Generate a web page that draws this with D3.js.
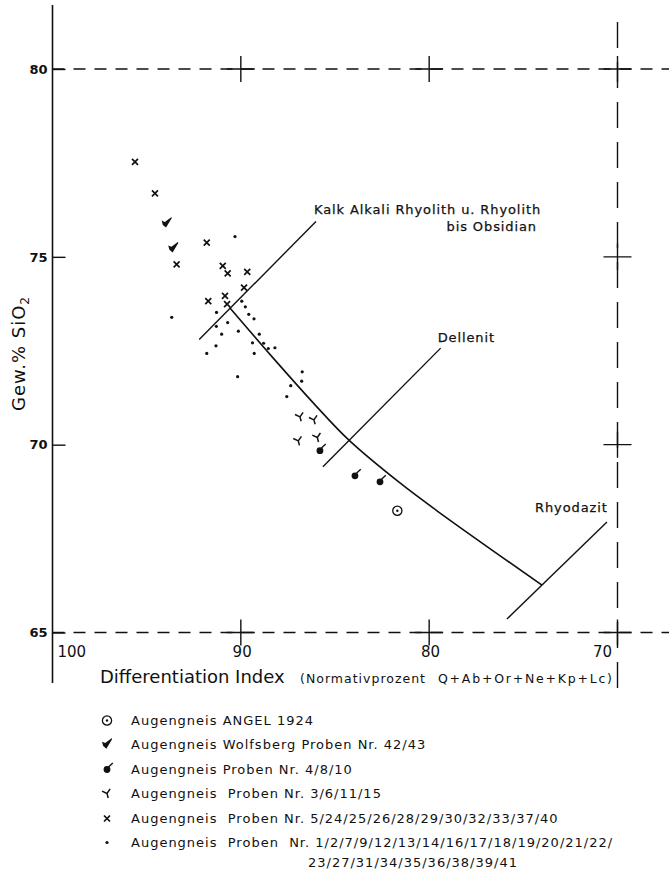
<!DOCTYPE html>
<html><head><meta charset="utf-8">
<script src="https://cdn.jsdelivr.net/npm/d3@7"></script>
<style>
html,body{margin:0;padding:0;background:#fff;}
svg{display:block;}
text{font-family:"DejaVu Sans",sans-serif;fill:#111;white-space:pre;}
</style></head><body>
<svg id="chart" width="669" height="871"></svg>
<script>
// ---------------- data ----------------
const xTicks = [100, 90, 80, 70];
const yTicks = [80, 75, 70, 65];
const gridCrosses = [[90,80],[80,80],[70,80],[70,75],[70,70],[90,65],[80,65],[70,65]];

// [Differentiation Index, SiO2 %]
const angel1924 = [[81.69,68.24]];
const wolfsberg4243 = [[93.94,75.89],[93.59,75.23]];
const proben4_8_10 = [[85.80,69.84],[83.94,69.17],[82.61,69.01]];
const proben3_6_11_15 = [[86.86,70.74],[86.12,70.66],[86.95,70.10],[85.94,70.19]];
const proben5_40 = [[95.62,77.53],[94.56,76.69],[91.81,75.38],[93.41,74.80],[90.96,74.76],
  [90.70,74.56],[89.66,74.60],[89.83,74.18],[90.84,73.96],[91.73,73.82],[90.73,73.74]];
const proben1_41 = [[90.31,75.54],[93.67,73.39],[91.29,73.52],[89.95,73.82],[89.76,73.67],
  [89.58,73.47],[89.30,73.35],[90.70,73.25],[91.30,73.15],[91.02,72.94],[90.13,73.02],
  [89.02,72.94],[91.32,72.63],[91.81,72.43],[89.38,72.71],[88.79,72.70],[88.54,72.56],
  [88.19,72.58],[89.29,72.43],[90.17,71.81],[86.74,71.94],[86.77,71.69],[87.35,71.57],[87.56,71.28]];

const trendCurve = [[90.60,73.65],[88.29,72.31],[86.06,71.06],[84.26,70.12],[81.55,68.98],[79.42,68.18],[74.01,66.26]];
const tieKalk = [[92.21,72.80],[86.01,75.94]];
const tieDellenit = [[85.64,69.41],[79.39,72.57]];
const tieRhyodazit = [[75.87,65.36],[70.56,67.94]];

const fieldLabels = ["Kalk Alkali Rhyolith u. Rhyolith", "bis Obsidian", "Dellenit", "Rhyodazit"];
const legendLabels = [
  "Augengneis ANGEL 1924",
  "Augengneis Wolfsberg Proben Nr. 42/43",
  "Augengneis Proben Nr. 4/8/10",
  "Augengneis  Proben Nr. 3/6/11/15",
  "Augengneis  Proben Nr. 5/24/25/26/28/29/30/32/33/37/40",
  "Augengneis  Proben  Nr. 1/2/7/9/12/13/14/16/17/18/19/20/21/22/"
];
const legendContinuation = "23/27/31/34/35/36/38/39/41";
const legendTypes = ["circle","check","drop","y","x","dot"];
const xTitle = "Differentiation Index";
const xSubtitle1 = "(Normativprozent";
const xSubtitle2 = "Q+Ab+Or+Ne+Kp+Lc)";

// ---------------- drawing ----------------
const W = 669, H = 871, INK = "#111";
const svg = d3.select("#chart");
svg.append("rect").attr("width",W).attr("height",H).attr("fill","#fff");

const x = d3.scaleLinear().domain([100,70]).range([52.5,617.5]);
const y = d3.scaleLinear().domain([80,65]).range([69,632.5]);

// left axis line
svg.append("line").attr("x1",x(100)).attr("x2",x(100)).attr("y1",5).attr("y2",683)
  .attr("stroke",INK).attr("stroke-width",1.6);

// dashed frame lines
[80,65].forEach(v=>{
  svg.append("line").attr("x1",x(100)).attr("x2",W).attr("y1",y(v)).attr("y2",y(v))
    .attr("stroke",INK).attr("stroke-width",1.4).attr("stroke-dasharray","12,9");
});
svg.append("line").attr("x1",x(70)).attr("x2",x(70)).attr("y1",22).attr("y2",690)
  .attr("stroke",INK).attr("stroke-width",1.4).attr("stroke-dasharray","26,14");

// grid crosses
gridCrosses.forEach(([a,b])=>{
  svg.append("path").attr("d",`M${x(a)-14},${y(b)}H${x(a)+14}M${x(a)},${y(b)-13}V${y(b)+13}`)
    .attr("stroke",INK).attr("stroke-width",1.4).attr("fill","none");
});

// y axis ticks
const yAxis = d3.axisLeft(y).tickValues(yTicks).tickSize(-13).tickPadding(5).tickFormat(d3.format("d"));
const gy = svg.append("g").attr("transform",`translate(${x(100)},0)`).call(yAxis);
gy.select(".domain").remove();
gy.selectAll(".tick line").attr("stroke",INK).attr("stroke-width",1.4);
gy.selectAll(".tick text").attr("font-family","'Liberation Sans',Arial,sans-serif")
  .attr("font-size",13).attr("font-weight","bold").attr("fill",INK);

// x axis labels
const xAxis = d3.axisBottom(x).tickValues(xTicks).tickSize(0).tickFormat(d3.format("d"));
const gx = svg.append("g").attr("transform",`translate(0,${y(65)})`).call(xAxis);
gx.select(".domain").remove();
gx.selectAll(".tick text").attr("y",24.5).attr("dy",0)
  .attr("font-family","'Liberation Sans Narrow','DejaVu Sans Condensed',sans-serif")
  .attr("font-size",15).attr("fill",INK)
  .attr("text-anchor",d=> d===100 ? "start" : (d===70 ? "end" : "middle"))
  .attr("dx",d=> d===100 ? 4.5 : (d===70 ? -6 : 0.8));

// axis titles
svg.append("text").attr("x",100).attr("y",683).attr("font-size",18).text(xTitle);
svg.append("text").attr("x",300).attr("y",683).attr("font-size",12.5)
  .attr("textLength",125).attr("lengthAdjust","spacing").text(xSubtitle1);
svg.append("text").attr("x",438).attr("y",683).attr("font-size",12.5)
  .attr("textLength",174).attr("lengthAdjust","spacing").text(xSubtitle2);

const yt = svg.append("text").attr("transform","translate(25,353.5) rotate(-90)")
  .attr("text-anchor","middle").attr("font-size",18).attr("letter-spacing",1);
yt.append("tspan").text("Gew.% SiO");
yt.append("tspan").attr("font-size",12).attr("dy",4).text("2");

// trend curve and tie lines
const line = d3.line().x(d=>x(d[0])).y(d=>y(d[1]));
svg.append("path").attr("d",line.curve(d3.curveCatmullRom)(trendCurve))
  .attr("fill","none").attr("stroke",INK).attr("stroke-width",1.6);
const straight = d3.line().x(d=>x(d[0])).y(d=>y(d[1]));
[tieKalk,tieDellenit,tieRhyodazit].forEach(t=>{
  svg.append("path").attr("d",straight(t)).attr("fill","none").attr("stroke",INK).attr("stroke-width",1.4);
});

// field labels
const lab = (txt,px,py,anchor)=>svg.append("text").attr("x",px).attr("y",py)
  .attr("font-size",13).attr("letter-spacing",0.9).attr("text-anchor",anchor||"start")
  .attr("stroke",INK).attr("stroke-width",0.25).text(txt);
lab(fieldLabels[0], x(tieKalk[1][0])-2, 214);
lab(fieldLabels[1], 537, 231, "end");
lab(fieldLabels[2], x(tieDellenit[1][0])-3, 342);
lab(fieldLabels[3], 535, 512);

// symbols
function drawSymbol(g, type){
  switch(type){
    case "circle":
      g.append("circle").attr("r",4.6).attr("fill","none").attr("stroke",INK).attr("stroke-width",1.3);
      g.append("circle").attr("r",1.2).attr("fill",INK); break;
    case "check":
      g.append("path").attr("d","M-5,-2.8 L-1.8,-1.4 L4.6,-6.2 L5.2,-5.4 L-0.6,4.2 L-3.8,1.6 Z").attr("fill",INK); break;
    case "drop":
      g.append("circle").attr("r",3.4).attr("fill",INK);
      g.append("path").attr("d","M1.5,-2.6 L5.8,-6.6").attr("stroke",INK).attr("stroke-width",1.4); break;
    case "y":
      g.append("path").attr("d","M-4.2,-3.6 L0,0 L4.2,-3.6 M0,0 L0,4.6").attr("transform","rotate(-15)")
        .attr("fill","none").attr("stroke",INK).attr("stroke-width",1.5); break;
    case "x":
      g.append("path").attr("d","M-3,-3L3,3M-3,3L3,-3").attr("fill","none").attr("stroke",INK).attr("stroke-width",1.7); break;
    case "dot":
      g.append("circle").attr("r",1.6).attr("fill",INK); break;
  }
}
const series = [[angel1924,"circle"],[wolfsberg4243,"check"],[proben4_8_10,"drop"],
  [proben3_6_11_15,"y"],[proben5_40,"x"],[proben1_41,"dot"]];
series.forEach(([data,type])=>{
  svg.append("g").selectAll("g").data(data).join("g")
    .attr("transform",d=>`translate(${x(d[0])},${y(d[1])})`)
    .each(function(){ drawSymbol(d3.select(this), type); });
});

// legend
const legendBase = [725, 749, 774, 798, 823, 847];
legendLabels.forEach((t,i)=>{
  const g = svg.append("g").attr("transform",`translate(107,${legendBase[i]-4.5})`);
  drawSymbol(g, legendTypes[i]);
  svg.append("text").attr("x",131).attr("y",legendBase[i]).attr("font-size",13)
    .attr("letter-spacing",1).text(t);
});
svg.append("text").attr("x",308).attr("y",867).attr("font-size",13).attr("letter-spacing",1).text(legendContinuation);
</script>
</body></html>
